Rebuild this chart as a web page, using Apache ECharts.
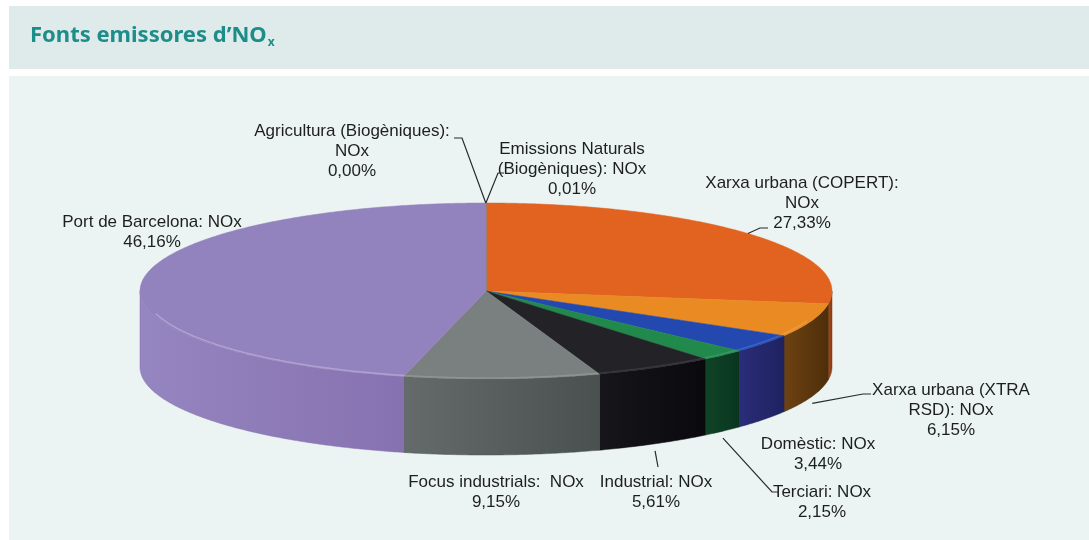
<!DOCTYPE html>
<html>
<head>
<meta charset="utf-8">
<script src="https://cdn.jsdelivr.net/npm/echarts@6/dist/echarts.min.js"></script>
<style>
  html, body { margin: 0; padding: 0; background: #fff; }
  #main { width: 1089px; height: 540px; }
</style>
</head>
<body>
<div id="main"></div>
<script>
// slices, clockwise from 12 o'clock
var names = [
  'Xarxa urbana (COPERT):\nNOx',
  'Xarxa urbana (XTRA\nRSD): NOx',
  'Domèstic: NOx',
  'Terciari: NOx',
  'Industrial: NOx',
  'Focus industrials:  NOx',
  'Port de Barcelona: NOx',
  'Agricultura (Biogèniques):\nNOx',
  'Emissions Naturals\n(Biogèniques): NOx'
];
var values = [27.33, 6.15, 3.44, 2.15, 5.61, 9.15, 46.16, 0.00, 0.01];

var topColors  = ['#e2621f', '#e98b22', '#2349b0', '#21894b', '#232327', '#7a807f', '#9282be', '#7a9a3a', '#4aa0c8'];
var sideColors = [
  ['#a8461a', '#8a3a12'], ['#6e4212', '#4e2e0a'], ['#2a2d78', '#1f2260'],
  ['#0f4427', '#0a3520'], ['#15151a', '#0a0a0e'], ['#656b6b', '#4a4f4f'],
  ['#9585c0', '#8672b0'], ['#556b2a', '#44561f'], ['#3a86a8', '#2e6e8a']
];
var rimColors = ['#f09060', '#f4b060', '#6080d8', '#50b078', '#505058', '#a8adad', '#d8c8ec', '#a0c060', '#80c0e0'];

// label layout (top-centre of each label block) and leader elbows
var labelPos = [[802, 173], [951, 380], [818, 434], [822, 482], [656, 472], [496, 472], [152, 212], [352, 121], [572, 139]];
var leaders = [
  [[760, 228], [768, 228]],
  [[863, 394], [871, 394]],
  null,
  [[772, 492], [778, 492]],
  [[658, 467]],
  null,
  null,
  [[462, 138], [454, 138]],
  [[498, 173], [504, 173]]
];

// pie geometry (tilted 3D disc)
var CX = 486, CY = 291, RX = 346, RY = 88, DEPTH = 76;

var total = values.reduce(function (s, v) { return s + v; }, 0);
var startA = [], endA = [];
(function () {
  var acc = 0;
  values.forEach(function (v) {
    startA.push(acc / total * 360);
    acc += v;
    endA.push(acc / total * 360);
  });
})();

function pt(deg, dy, shrink) {
  var r = deg * Math.PI / 180, s = shrink || 0;
  return [CX + (RX - s) * Math.sin(r), CY - (RY - s * RY / RX) * Math.cos(r) + dy];
}
function arc(a, b, dy, shrink) {
  var pts = [], step = 0.5, n = Math.max(1, Math.ceil(Math.abs(b - a) / step));
  for (var k = 0; k <= n; k++) pts.push(pt(a + (b - a) * k / n, dy, shrink));
  return pts;
}

function renderSide(params, api) {
  var i = params.dataIndex;
  var a = Math.max(startA[i], 90), b = Math.min(endA[i], 270);
  if (b <= a) return;
  var pts = arc(a, b, 0).concat(arc(b, a, DEPTH));
  return {
    type: 'polygon',
    shape: { points: pts },
    style: {
      fill: new echarts.graphic.LinearGradient(0, 0, 1, 0, [
        { offset: 0, color: sideColors[i][0] },
        { offset: 1, color: sideColors[i][1] }
      ]),
      stroke: sideColors[i][1], lineWidth: 0.5
    }
  };
}

function renderTop(params, api) {
  var i = params.dataIndex;
  var v = api.value(0);
  var children = [];
  if (endA[i] - startA[i] > 0) {
    children.push({
      type: 'polygon',
      shape: { points: [[CX, CY]].concat(arc(startA[i], endA[i], 0)) },
      style: { fill: topColors[i], stroke: topColors[i], lineWidth: 0.5 }
    });
    // soft bevel highlight along the front rim
    var a = Math.max(startA[i], 110), b = Math.min(endA[i], 255);
    if (b > a) {
      children.push({
        type: 'polyline',
        shape: { points: arc(a, b, 0, 4) },
        style: { stroke: rimColors[i], lineWidth: 1.5, opacity: 0.45, fill: null }
      });
    }
  }
  var txt = names[i] + '\n' + v.toFixed(2).replace('.', ',') + '%';
  children.push({
    type: 'text',
    x: labelPos[i][0], y: labelPos[i][1],
    z2: 10,
    style: {
      text: txt, fill: '#1e1e1e',
      fontSize: 17, fontFamily: 'Liberation Sans, Arial, sans-serif',
      lineHeight: 20,
      align: 'center', textAlign: 'center',
      verticalAlign: 'top', textVerticalAlign: 'top'
    }
  });
  if (leaders[i]) {
    var m = (startA[i] + endA[i]) / 2;
    var anchor = pt(m, 0);
    if (Math.cos(m * Math.PI / 180) < 0) anchor[1] += DEPTH + 7;
    children.push({
      type: 'polyline',
      z2: 10,
      shape: { points: [anchor].concat(leaders[i]) },
      style: { stroke: '#2a2a2a', lineWidth: 1.2, fill: null }
    });
  }
  return { type: 'group', children: children };
}

var chart = echarts.init(document.getElementById('main'));
chart.setOption({
  animation: false,
  graphic: [
    { type: 'rect', z: -10, shape: { x: 9, y: 6, width: 1080, height: 63 }, style: { fill: '#dfeaea' } },
    { type: 'rect', z: -10, shape: { x: 9, y: 76, width: 1080, height: 464 }, style: { fill: '#ebf4f2' } },
    {
      type: 'text', z: 5, x: 30, y: 23,
      style: {
        text: '{t|Fonts emissores d\u2019NO}{s|x}',
        rich: {
          t: { fontSize: 22, fontWeight: 'bold', fill: '#1d8d89', fontFamily: 'Noto Sans, Inter, sans-serif', lineHeight: 26 },
          s: { fontSize: 12, fontWeight: 'bold', fill: '#1d8d89', fontFamily: 'Noto Sans, Inter, sans-serif', lineHeight: 12, verticalAlign: 'bottom', padding: [0, 0, 0, 1] }
        }
      }
    }
  ],
  series: [
    { type: 'custom', coordinateSystem: 'none', silent: true, z: 2, renderItem: renderSide, data: values.map(function (v) { return [v]; }) },
    { type: 'custom', coordinateSystem: 'none', silent: true, z: 3, renderItem: renderTop, data: values.map(function (v) { return [v]; }) }
  ]
});
</script>
</body>
</html>
